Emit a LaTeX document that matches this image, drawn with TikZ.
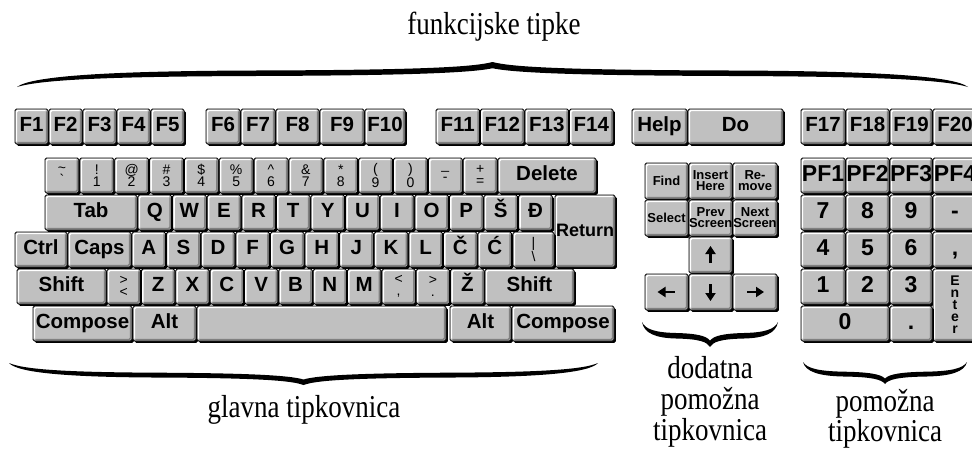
\documentclass[tikz,border=0pt]{standalone}
\usepackage{fontspec}
\setmainfont{Liberation Serif}
\newfontfamily\keyfont{Liberation Sans}
\usepackage{xcolor}
\usetikzlibrary{shadows}
\usetikzlibrary{arrows.meta}
\definecolor{keyface}{RGB}{192,192,192}
\definecolor{keydark}{RGB}{128,128,128}
\newcommand\bigkey{\keyfont\bfseries\fontsize{20.5}{20}\selectfont}
\newcommand\padkey{\keyfont\bfseries\fontsize{23}{23}\selectfont}
\newcommand\symkey{\keyfont\fontsize{14}{12}\selectfont}
\newcommand\smallkey{\keyfont\bfseries\fontsize{13}{11}\selectfont}
\newcommand\tall[1]{\scalebox{1}[1.18]{#1}}

\begin{document}
\begin{tikzpicture}[x=1pt,y=-1pt,
  key/.style={anchor=north west, draw=black, line width=0.9pt, fill=keyface,
    rounded corners=1.5pt, inner sep=0pt, outer sep=0pt, align=center,
    minimum height=35pt, font=\bigkey, text height=14.6pt, text depth=4.3pt,
    drop shadow={shadow xshift=1.8pt, shadow yshift=-1.8pt, fill=black, opacity=1},
    path picture={
      \draw[white, line width=1.6pt] ([shift={(1.4pt,2.4pt)}]path picture bounding box.south west)
        |- ([shift={(-2.4pt,-1.4pt)}]path picture bounding box.north east);
      \draw[keydark, line width=1.6pt] ([shift={(2.4pt,1.4pt)}]path picture bounding box.south west)
        -| ([shift={(-1.4pt,-2.4pt)}]path picture bounding box.north east);
    }},
  wd/.style={minimum width=#1pt},
  ht/.style={minimum height=#1pt},
  sym/.style={font=\symkey, text height=, text depth=},
  small/.style={font=\smallkey, text height=, text depth=},
  pad/.style={font=\padkey, text height=16.5pt, text depth=4.8pt},
  caption/.style={font=\fontsize{27}{31}\selectfont, align=center},
  arr/.style={line width=2.2pt, -{Triangle[length=8pt,width=10pt]}},
  zagrada/.pic={
    \fill (-1,0) .. controls (-0.97,-0.45) and (-0.8,-0.64) .. (-0.5,-0.66)
      .. controls (-0.15,-0.68) and (-0.04,-0.8) .. (0,-1)
      .. controls (0.04,-0.8) and (0.15,-0.68) .. (0.5,-0.66)
      .. controls (0.8,-0.64) and (0.97,-0.45) .. (1,0)
      .. controls (0.95,-0.3) and (0.8,-0.42) .. (0.5,-0.44)
      .. controls (0.2,-0.46) and (0.05,-0.55) .. (0,-0.75)
      .. controls (-0.05,-0.55) and (-0.2,-0.46) .. (-0.5,-0.44)
      .. controls (-0.8,-0.42) and (-0.95,-0.3) .. (-1,0) -- cycle;
  }
]
\useasboundingbox (0,0) rectangle (972,448);
\clip (0,0) rectangle (972,448);

% naslovi i zagrade
\node[caption] (funk) at (494,27) {\tall{funkcijske tipke}};
\pic[xscale=475.5, yscale=25] at (492.5,87) {zagrada};

% funkcijske tipke
\foreach \i in {1,...,5}
  \node[key, wd=33] (f\i) at ({15+34*(\i-1)},109) {F\i};
\node[key, wd=34] (f6) at (206,109) {F6};
\node[key, wd=34] (f7) at (241,109) {F7};
\node[key, wd=43] (f8) at (276,109) {F8};
\node[key, wd=44] (f9) at (320,109) {F9};
\node[key, wd=40] (f10) at (365,109) {F10};
\node[key, wd=43.5] (f11) at (436,109) {F11};
\node[key, wd=43.5] (f12) at (480.5,109) {F12};
\node[key, wd=43.5] (f13) at (525,109) {F13};
\node[key, wd=43.5] (f14) at (569.5,109) {F14};
\node[key, wd=55] (help) at (632,109) {Help};
\node[key, wd=95] (do) at (688,109) {Do};
\node[key, wd=44] (f17) at (801,109) {F17};
\node[key, wd=43] (f18) at (846,109) {F18};
\node[key, wd=42] (f19) at (890,109) {F19};
\node[key, wd=44] (f20) at (933,109) {F20};

% glavna tipkovnica
\foreach \shf/\num [count=\i from 0] in {\textasciitilde/\textasciigrave, !/1, @/2, \#/3, \$/4, \%/5,
    \textasciicircum/6, \&/7, */8, {(}/9, {)}/0, \_/-, +/=}
  \node[key, sym, wd=33.85] (n\i) at ({45+34.85*\i},158) {\shf\\\num};
\node[key, wd=98] (delete) at (498,158) {Delete};

\node[key, wd=92] (tab) at (45,195) {Tab};
\foreach \c [count=\i from 0] in {Q,W,E,R,T,Y,U,I,O,P,Š,Đ}
  \node[key, wd=33.6] (t\i) at ({138+34.6*\i},195) {\c};
\node[key, wd=60, ht=72, font=\keyfont\bfseries\fontsize{18}{18}\selectfont] (return) at (555,195) {Return};

\node[key, wd=52] (ctrl) at (15,232) {Ctrl};
\node[key, wd=63] (caps) at (68,232) {Caps};
\foreach \c [count=\i from 0] in {A,S,D,F,G,H,J,K,L,Č,Ć}
  \node[key, wd=33.6] (c\i) at ({132+34.6*\i},232) {\c};
\node[key, sym, wd=41] (bar) at (513,232) {|\\\textbackslash};

\node[key, wd=89] (lshift) at (17,269) {Shift};
\node[key, sym, wd=33.4] (s0) at (107,269) {>\\<};
\foreach \c [count=\i from 1] in {Z,X,C,V,B,N,M}
  \node[key, wd=33.4] (s\i) at ({107+34.36*\i},269) {\c};
\node[key, sym, wd=33.4] (s8) at (381.9,269) {<\\,};
\node[key, sym, wd=33.4] (s9) at (416.2,269) {>\\.};
\node[key, wd=33.4] (s10) at (450.6,269) {Ž};
\node[key, wd=89] (rshift) at (485,269) {Shift};

\node[key, wd=99] (lcompose) at (33,306) {Compose};
\node[key, wd=63] (lalt) at (133,306) {Alt};
\node[key, wd=249] (space) at (197,306) {};
\node[key, wd=61] (ralt) at (450,306) {Alt};
\node[key, wd=102] (rcompose) at (512,306) {Compose};

\node[caption] (glavna) at (304,410) {\tall{glavna tipkovnica}};
\pic[xscale=294.5, yscale=-22] at (303.5,363) {zagrada};

% dodatna pomozna tipkovnica
\node[key, small, wd=43, ht=36] (find) at (645,163) {Find};
\node[key, small, wd=43, ht=36] (insert) at (689,163) {Insert\\Here};
\node[key, small, wd=44, ht=36] (remove) at (733,163) {Re-\\move};
\node[key, small, wd=43, ht=36] (select) at (645,200) {Select};
\node[key, small, wd=43, ht=36] (prev) at (689,200) {Prev\\Screen};
\node[key, small, wd=44, ht=36] (next) at (733,200) {Next\\Screen};
\node[key, wd=43, ht=36] (up) at (689,237) {};
\node[key, wd=43, ht=36] (left) at (645,274) {};
\node[key, wd=43, ht=36] (down) at (689,274) {};
\node[key, wd=44, ht=36] (right) at (733,274) {};
\draw[arr] ([yshift=-8pt]up.center) -- ([yshift=9pt]up.center);
\draw[arr] ([yshift=8pt]down.center) -- ([yshift=-9pt]down.center);
\draw[arr] ([xshift=8pt]left.center) -- ([xshift=-9pt]left.center);
\draw[arr] ([xshift=-8pt]right.center) -- ([xshift=9pt]right.center);

\node[caption] (dodatna) at (710,402) {\tall{dodatna}\\\tall{pomožna}\\\tall{tipkovnica}};
\pic[xscale=68, yscale=-25] at (710,322) {zagrada};

% pomozna tipkovnica
\node[key, pad, wd=44] (pf1) at (801,158) {PF1};
\node[key, pad, wd=43] (pf2) at (846,158) {PF2};
\node[key, pad, wd=42] (pf3) at (890,158) {PF3};
\node[key, pad, wd=44] (pf4) at (933,158) {PF4};
\node[key, pad, wd=44] (k7) at (801,195) {7};
\node[key, pad, wd=43] (k8) at (846,195) {8};
\node[key, pad, wd=42] (k9) at (890,195) {9};
\node[key, pad, wd=44] (kminus) at (933,195) {-};
\node[key, pad, wd=44] (k4) at (801,232) {4};
\node[key, pad, wd=43] (k5) at (846,232) {5};
\node[key, pad, wd=42] (k6) at (890,232) {6};
\node[key, pad, wd=44] (kcomma) at (933,232) {,};
\node[key, pad, wd=44] (k1) at (801,269) {1};
\node[key, pad, wd=43] (k2) at (846,269) {2};
\node[key, pad, wd=42] (k3) at (890,269) {3};
\node[key, wd=44, ht=72, text height=, text depth=,
  font=\keyfont\bfseries\fontsize{14}{12}\selectfont] (enter) at (933,269) {E\\n\\t\\e\\r};
\node[key, pad, wd=88] (k0) at (801,306) {0};
\node[key, pad, wd=42] (kdot) at (890,306) {.};

\node[caption, font=\fontsize{27}{28}\selectfont] (pomozna) at (885,419) {\tall{pomožna}\\\tall{tipkovnica}};
\pic[xscale=82, yscale=-22] at (885,362) {zagrada};
\end{tikzpicture}
\end{document}
